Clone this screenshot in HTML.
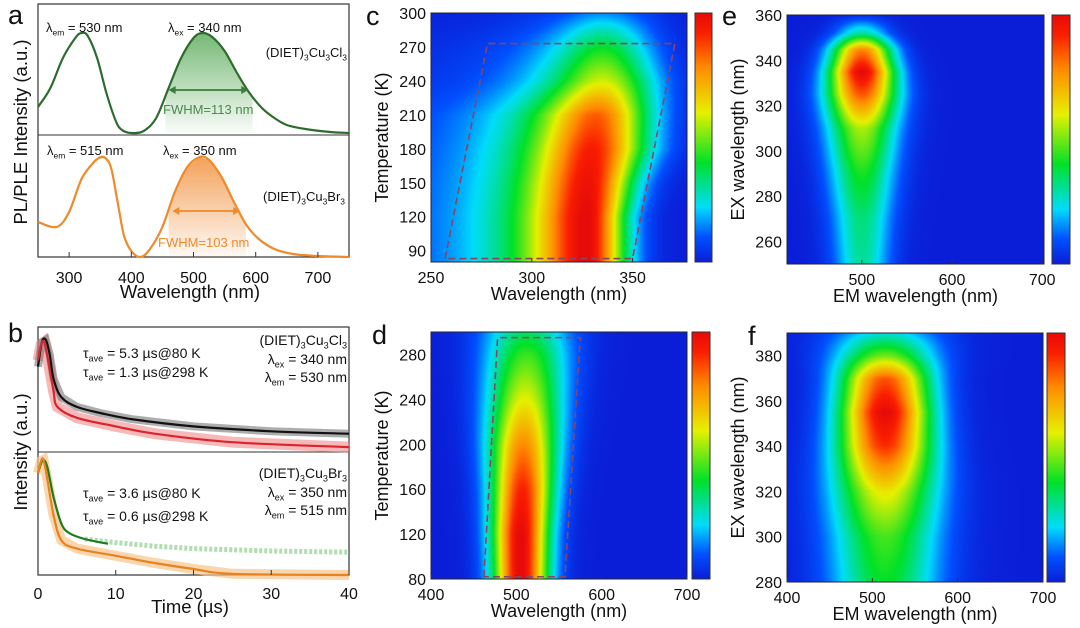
<!DOCTYPE html>
<html><head><meta charset="utf-8">
<style>
html,body{margin:0;padding:0;background:#fff;}
#wrap{position:relative;width:1080px;height:628px;overflow:hidden;font-family:"Liberation Sans",Arial,sans-serif;}
canvas{position:absolute;}
svg{position:absolute;left:0;top:0;}
text{font-family:"Liberation Sans",Arial,sans-serif;}
</style></head>
<body>
<div id="wrap">
<canvas id="hc" width="256" height="249" style="left:431px;top:13px"></canvas>
<canvas id="he" width="257" height="249" style="left:787px;top:15px"></canvas>
<canvas id="hd" width="256" height="247" style="left:431px;top:332px"></canvas>
<canvas id="hf" width="256" height="249" style="left:787px;top:333px"></canvas>
<svg id="svg" width="1080" height="628" xmlns="http://www.w3.org/2000/svg">
<defs>
<linearGradient id="cbar" x1="0" y1="1" x2="0" y2="0">
<stop offset="0" stop-color="rgb(10,30,215)"/><stop offset="0.1" stop-color="rgb(0,80,255)"/>
<stop offset="0.22" stop-color="rgb(0,220,250)"/><stop offset="0.4" stop-color="rgb(0,225,40)"/>
<stop offset="0.6" stop-color="rgb(230,240,0)"/><stop offset="0.78" stop-color="rgb(255,140,0)"/>
<stop offset="0.92" stop-color="rgb(250,30,0)"/><stop offset="1" stop-color="rgb(230,10,10)"/>
</linearGradient>
<linearGradient id="gfill" x1="0" y1="0" x2="0" y2="1"><stop offset="0" stop-color="#3a9a3a" stop-opacity="0.7"/><stop offset="1" stop-color="#3a9a3a" stop-opacity="0.03"/></linearGradient>
<linearGradient id="ofill" x1="0" y1="0" x2="0" y2="1"><stop offset="0" stop-color="#f08a30" stop-opacity="0.8"/><stop offset="1" stop-color="#f08a30" stop-opacity="0.05"/></linearGradient>
</defs>
</svg>
</div>
<script>
// ---------- Panel a data ----------
const aWl = [250,270,290,310,320,330,345,360,375,385,400,420,440,460,480,500,515,530,550,570,590,610,630,650,680,720,750];
const aCl = [0.26,0.45,0.75,0.95,1.0,0.97,0.75,0.4,0.12,0.03,0.0,0.02,0.15,0.45,0.75,0.95,1.0,0.96,0.82,0.6,0.4,0.25,0.15,0.08,0.04,0.01,0.0];
const aWlBr = [250,280,300,320,340,352,360,368,378,388,400,415,430,450,470,490,510,525,545,565,585,605,630,660,700,750];
const aBr = [0.35,0.3,0.45,0.78,0.95,1.0,0.98,0.88,0.55,0.22,0.06,0.0,0.08,0.3,0.65,0.9,1.0,0.97,0.8,0.55,0.32,0.18,0.08,0.03,0.01,0.0];
const aTicks = [300,400,500,600,700];
// ---------- Panel b data ----------
const bT1 = [0,0.5,1,1.5,2,3,5,8,12,20,30,40];
const bBlack = [0.7,0.9,0.92,0.8,0.6,0.45,0.37,0.32,0.27,0.21,0.17,0.15];
const bT2 = [0,0.4,0.8,1.3,2,2.5,5,10,15,25,40];
const bRed = [0.75,0.88,0.9,0.75,0.5,0.37,0.28,0.21,0.15,0.08,0.04];
const bT3 = [0,0.4,0.7,1.2,2,3,4,6,9];
const bGreen = [0.85,0.93,0.96,0.9,0.65,0.43,0.35,0.3,0.26];
const bGreenScatter = [0.3,0.27,0.24,0.22,0.2,0.19];
const bT3s = [6,10,15,20,30,40];
const bT4 = [0,0.4,0.7,1.2,2,3,5,10,15,20,25,40];
const bOrange = [0.85,0.95,0.96,0.8,0.5,0.29,0.22,0.16,0.1,0.05,0.01,0.0];
const bTicks = [0,10,20,30,40];
// ---------- Heatmap data ----------
const cTemp = [80,120,150,180,210,240,270,300];
const cCenter = [327,327,328,330,332,335,335,335];
const cAmp = [1,1,0.97,0.93,0.84,0.58,0.4,0.15];
const cLeftW = [30,30,30,30,30,28,26,24];
const cRightW = [14,14,16,19,19,19,18,18];
const cTicksY = [90,120,150,180,210,240,270,300];
const cTicksX = [250,300,350];
const dTemp = [80,120,160,200,240,280,300];
const dCenter = [505,505,507,508,510,512,512];
const dAmp = [1,1,0.92,0.78,0.6,0.45,0.35];
const dWidth = [23,24,26,29,32,35,37];
const dTicksY = [80,120,160,200,240,280];
const dTicksX = [400,500,600,700];
const eEx = [250,270,290,310,325,335,345,352,360];
const eAmp = [0.3,0.33,0.42,0.55,0.85,1,0.78,0.3,0.04];
const eWidth = [22,24,26,28,28,26,24,22,20];
const eCenter = [500,500,500,500,500,500,500,500,500];
const eTicksY = [260,280,300,320,340,360];
const eTicksX = [500,600,700];
const fEx = [280,300,320,340,355,370,380,390];
const fAmp = [0.4,0.46,0.62,0.9,1,0.85,0.5,0.25];
const fWidth = [45,45,44,40,38,38,42,46];
const fCenter = [515,515,515,515,515,515,515,515];
const fTicksY = [280,300,320,340,360,380];
const fTicksX = [400,500,600,700];

const NS="http://www.w3.org/2000/svg";
const svg=document.getElementById('svg');
function lin(d0,d1,r0,r1){return v=>r0+(v-d0)/(d1-d0)*(r1-r0);}
function el(tag,attrs,parent){const e=document.createElementNS(NS,tag);for(const k in attrs)e.setAttribute(k,attrs[k]);(parent||svg).appendChild(e);return e;}
function txt(x,y,s,size,anchor,fill,name){const t=el('text',{x:x,y:y,'font-size':size,'text-anchor':anchor||'start',fill:fill||'#111'});t.textContent=s;


return t;}
function rich(x,y,parts,size,anchor,fill,name){const t=el('text',{x:x,y:y,'font-size':size,'text-anchor':anchor||'start',fill:fill||'#111'});


parts.forEach(p=>{const s=document.createElementNS(NS,'tspan');if(p[1]==='sub'){s.setAttribute('font-size',size*0.65);s.setAttribute('dy',size*0.25);}else if(p[1]==='back'){s.setAttribute('dy',-size*0.25);}s.textContent=p[0];t.appendChild(s);});return t;}
function pathOf(xs,ys,fx,fy){return xs.map((v,i)=>(i?'L':'M')+fx(v).toFixed(1)+' '+fy(ys[i]).toFixed(1)).join(' ');}
function smoothPath(xs,ys,fx,fy){const p=xs.map((v,i)=>[fx(v),fy(ys[i])]);let d='M'+p[0][0]+' '+p[0][1];
for(let i=0;i<p.length-1;i++){const p0=p[Math.max(0,i-1)],p1=p[i],p2=p[i+1],p3=p[Math.min(p.length-1,i+2)];
d+=' C'+(p1[0]+(p2[0]-p0[0])/6).toFixed(1)+' '+(p1[1]+(p2[1]-p0[1])/6).toFixed(1)+' '+(p2[0]-(p3[0]-p1[0])/6).toFixed(1)+' '+(p2[1]-(p3[1]-p1[1])/6).toFixed(1)+' '+p2[0].toFixed(1)+' '+p2[1].toFixed(1);}return d;}
function interp(xs,ys,x){if(x<=xs[0])return ys[0];for(let i=0;i<xs.length-1;i++){if(x<=xs[i+1]){const t=(x-xs[i])/(xs[i+1]-xs[i]);return ys[i]+t*(ys[i+1]-ys[i]);}}return ys[ys.length-1];}

// ---------- Panel a ----------
const ax=lin(250,750,38,349);
const ayT=lin(0,1,133,33), ayB=lin(0,1,257,157);
el('rect',{x:38,y:4,width:311,height:253,fill:'none',stroke:'#333','stroke-width':1.2,});
el('line',{x1:38,y1:135,x2:349,y2:135,stroke:'#333','stroke-width':1,});
(function(){const xs=[],ys=[];for(let w=455;w<=595;w+=2){xs.push(w);ys.push(interp(aWl,aCl,w));}
let d=pathOf(xs,ys,ax,ayT)+' L'+ax(595)+' '+ayT(0)+' L'+ax(455)+' '+ayT(0)+' Z';
el('path',{d:d,fill:'url(#gfill)',});
const xs2=[],ys2=[];for(let w=460;w<=585;w+=2){xs2.push(w);ys2.push(interp(aWlBr,aBr,w));}
d=pathOf(xs2,ys2,ax,ayB)+' L'+ax(585)+' '+ayB(0)+' L'+ax(460)+' '+ayB(0)+' Z';
el('path',{d:d,fill:'url(#ofill)',});})();
el('path',{d:smoothPath(aWl,aCl,ax,ayT),fill:'none',stroke:'#2e6b2e','stroke-width':2.2,});
el('path',{d:smoothPath(aWlBr,aBr,ax,ayB),fill:'none',stroke:'#ef8a2a','stroke-width':2.2,});
function arrow(x1,x2,y,c,name){el('line',{x1:x1+4,y1:y,x2:x2-4,y2:y,stroke:c,'stroke-width':1.8,});
el('path',{d:`M${x1} ${y} l7 -4 l0 8 Z M${x2} ${y} l-7 -4 l0 8 Z`,fill:c,});}
arrow(ax(460),ax(588),90,'#3a7d3a','fwhm-arrow-cl');
arrow(ax(466),ax(575),211,'#ef8a2a','fwhm-arrow-br');
aTicks.forEach(v=>{el('line',{x1:ax(v),y1:257,x2:ax(v),y2:252,stroke:'#333',});txt(ax(v),283,String(v),16,'middle','#111','a-xtick-label');});
txt(8,24,'a',27,'start','#111','panel-label-a');
txt(190,298,'Wavelength (nm)',18.5,'middle','#111','a-x-axis-title');
(function(){const t=txt(0,0,'PL/PLE Intensity (a.u.)',18.5,'middle','#111','a-y-axis-title');t.setAttribute('transform','translate(27,132) rotate(-90)');})();
rich(46,32,[['λ'],['em','sub'],[' = 530 nm','back']],13,'start','#111','cl-em-label');
rich(168,32,[['λ'],['ex','sub'],[' = 340 nm','back']],13,'start','#111','cl-ex-label');
rich(347,57,[['(DIET)'],['3','sub'],['Cu','back'],['3','sub'],['Cl','back'],['3','sub']],13,'end','#111','cl-compound-label');
txt(163,114,'FWHM=113 nm',13,'start','#4a8a4a','cl-fwhm-label');
rich(47,155,[['λ'],['em','sub'],[' = 515 nm','back']],13,'start','#111','br-em-label');
rich(163,155,[['λ'],['ex','sub'],[' = 350 nm','back']],13,'start','#111','br-ex-label');
rich(345,201,[['(DIET)'],['3','sub'],['Cu','back'],['3','sub'],['Br','back'],['3','sub']],13,'end','#111','br-compound-label');
txt(158,247,'FWHM=103 nm',13,'start','#ef8a2a','br-fwhm-label');

// ---------- Panel b ----------
const bx=lin(0,40,38,349);
const byT=lin(0,1,452,330), byB=lin(0,1,575,455);
el('rect',{x:38,y:327,width:311,height:248,fill:'none',stroke:'#333','stroke-width':1.2,});
el('line',{x1:38,y1:452,x2:349,y2:452,stroke:'#333',});
el('path',{d:pathOf(bT4,bOrange,bx,byB),fill:'none',stroke:'#f7c48a','stroke-width':10,'stroke-opacity':0.7,});
el('path',{d:pathOf(bT3s,bGreenScatter,bx,byB),fill:'none',stroke:'#8fd08f','stroke-width':5,'stroke-opacity':0.7,'stroke-dasharray':'3 2',});
el('path',{d:pathOf(bT2,bRed,bx,byT),fill:'none',stroke:'#f08a8a','stroke-width':11,'stroke-opacity':0.6,});
el('path',{d:pathOf(bT1,bBlack,bx,byT),fill:'none',stroke:'#777','stroke-width':8,'stroke-opacity':0.6,});
el('path',{d:smoothPath(bT1,bBlack,bx,byT),fill:'none',stroke:'#111','stroke-width':2.2,});
el('path',{d:smoothPath(bT2,bRed,bx,byT),fill:'none',stroke:'#d8262c','stroke-width':2.2,});
el('path',{d:smoothPath(bT3,bGreen,bx,byB),fill:'none',stroke:'#1f7a1f','stroke-width':2.2,});
el('path',{d:smoothPath(bT4,bOrange,bx,byB),fill:'none',stroke:'#e8821e','stroke-width':2.2,});
bTicks.forEach(v=>{el('line',{x1:bx(v),y1:575,x2:bx(v),y2:570,stroke:'#333',});txt(bx(v),599,String(v),16,'middle','#111','b-xtick-label');});
txt(8,342,'b',27,'start','#111','panel-label-b');
txt(190,613,'Time (µs)',18.5,'middle','#111','b-x-axis-title');
(function(){const t=txt(0,0,'Intensity (a.u.)',18.5,'middle','#111','b-y-axis-title');t.setAttribute('transform','translate(27,452) rotate(-90)');})();
rich(83,358,[['τ'],['ave','sub'],[' = 5.3 µs@80 K','back']],14,'start','#111','tau-cl-80K');
rich(83,377,[['τ'],['ave','sub'],[' = 1.3 µs@298 K','back']],14,'start','#111','tau-cl-298K');
rich(347,345,[['(DIET)'],['3','sub'],['Cu','back'],['3','sub'],['Cl','back'],['3','sub']],14,'end','#111','b-cl-compound');
rich(347,364,[['λ'],['ex','sub'],[' = 340 nm','back']],14,'end','#111','b-cl-ex');
rich(347,382,[['λ'],['em','sub'],[' = 530 nm','back']],14,'end','#111','b-cl-em');
rich(347,478,[['(DIET)'],['3','sub'],['Cu','back'],['3','sub'],['Br','back'],['3','sub']],14,'end','#111','b-br-compound');
rich(347,497,[['λ'],['ex','sub'],[' = 350 nm','back']],14,'end','#111','b-br-ex');
rich(347,515,[['λ'],['em','sub'],[' = 515 nm','back']],14,'end','#111','b-br-em');
rich(83,498,[['τ'],['ave','sub'],[' = 3.6 µs@80 K','back']],14,'start','#111','tau-br-80K');
rich(83,521,[['τ'],['ave','sub'],[' = 0.6 µs@298 K','back']],14,'start','#111','tau-br-298K');

// ---------- colormap ----------
const cmS=[0,0.1,0.22,0.4,0.6,0.78,0.92,1];
const cmC=[[10,30,215],[0,80,255],[0,220,250],[0,225,40],[230,240,0],[255,140,0],[250,30,0],[230,10,10]];
function cmap(v){v=Math.max(0,Math.min(1,v));for(let i=0;i<cmS.length-1;i++){if(v<=cmS[i+1]){const t=(v-cmS[i])/(cmS[i+1]-cmS[i]);return cmC[i].map((c,k)=>c+t*(cmC[i+1][k]-c));}}return cmC[cmC.length-1];}
function heat(id,x0,x1,y0,y1,fn){const cv=document.getElementById(id),ctx=cv.getContext('2d'),W=cv.width,H=cv.height,img=ctx.createImageData(W,H);
for(let j=0;j<H;j++){const yv=y1+(y0-y1)*(j/(H-1));for(let i=0;i<W;i++){const xv=x0+(x1-x0)*(i/(W-1));const c=cmap(fn(xv,yv));const o=(j*W+i)*4;img.data[o]=c[0];img.data[o+1]=c[1];img.data[o+2]=c[2];img.data[o+3]=255;}}ctx.putImageData(img,0,0);}
heat('hc',250,377,80,300,(w,T)=>{const c=interp(cTemp,cCenter,T),a=interp(cTemp,cAmp,T);const d=w-c;
if(d<0){const s=interp(cTemp,cLeftW,T);return a/(1+(d/s)*(d/s));}const s=interp(cTemp,cRightW,T);return a*Math.exp(-0.5*(d/s)*(d/s));});
heat('hd',400,700,80,300,(w,T)=>{const c=interp(dTemp,dCenter,T),a=interp(dTemp,dAmp,T),s=interp(dTemp,dWidth,T);const d=w-c;return a*Math.exp(-0.5*(d/s)*(d/s));});
heat('he',417,702,250,360,(w,e)=>{const c=interp(eEx,eCenter,e),a=interp(eEx,eAmp,e),s=interp(eEx,eWidth,e);const d=w-c;return a*Math.exp(-0.5*(d/s)*(d/s));});
heat('hf',400,700,280,390,(w,e)=>{const c=interp(fEx,fCenter,e),a=interp(fEx,fAmp,e),s=interp(fEx,fWidth,e);const d=w-c;return a*Math.exp(-0.5*(d/s)*(d/s));});

function heatAxes(p){
el('rect',{x:p.x0,y:p.y0,width:p.x1-p.x0,height:p.y1-p.y0,fill:'none',stroke:'#223','stroke-width':1,});
el('rect',{x:p.cb0,y:p.y0,width:p.cb1-p.cb0,height:p.y1-p.y0,fill:'url(#cbar)',stroke:'#333','stroke-width':1,});
const fx=lin(p.dx0,p.dx1,p.x0,p.x1),fy=lin(p.dy0,p.dy1,p.y1,p.y0);
p.tx.forEach(v=>{el('line',{x1:fx(v),y1:p.y1,x2:fx(v),y2:p.y1-4,stroke:'#333',});txt(fx(v),p.y1+21,String(v),16,'middle','#111',p.n+'-xtick-label');});
p.ty.forEach(v=>{txt(p.x0-5,fy(v)+6,String(v),16,'end','#111',p.n+'-ytick-label');});
txt((p.x0+p.x1)/2,p.y1+38,p.xt,18,'middle','#111',p.n+'-x-axis-title');
const t=txt(0,0,p.yt,18,'middle','#111',p.n+'-y-axis-title');t.setAttribute('transform',`translate(${p.ytx},${(p.y0+p.y1)/2}) rotate(-90)`);
txt(p.lx,p.ly,p.l,27,'start','#111','panel-label-'+p.l);
return {fx,fy};}
const C=heatAxes({n:'c',x0:431,x1:687,y0:13,y1:262,cb0:695,cb1:712,dx0:250,dx1:377,dy0:80,dy1:300,tx:cTicksX,ty:cTicksY,xt:'Wavelength (nm)',yt:'Temperature (K)',ytx:388,l:'c',lx:366,ly:25});
const D=heatAxes({n:'d',x0:431,x1:687,y0:332,y1:579,cb0:692,cb1:710,dx0:400,dx1:700,dy0:80,dy1:300,tx:dTicksX,ty:dTicksY,xt:'Wavelength (nm)',yt:'Temperature (K)',ytx:388,l:'d',lx:372,ly:344});
const E=heatAxes({n:'e',x0:787,x1:1044,y0:15,y1:264,cb0:1052,cb1:1070,dx0:417,dx1:702,dy0:250,dy1:360,tx:eTicksX,ty:eTicksY,xt:'EM  wavelength (nm)',yt:'EX  wavelength (nm)',ytx:744,l:'e',lx:722,ly:25});
const F=heatAxes({n:'f',x0:787,x1:1043,y0:333,y1:582,cb0:1047,cb1:1065,dx0:400,dx1:700,dy0:280,dy1:390,tx:fTicksX,ty:fTicksY,xt:'EM  wavelength (nm)',yt:'EX  wavelength (nm)',ytx:744,l:'f',lx:748,ly:345});
const cPoly=[[257,83],[278,273],[371,273],[350,83]];
const dPoly=[[462,82],[478,295],[575,295],[557,82]];
el('path',{d:cPoly.map((p,i)=>(i?'L':'M')+C.fx(p[0])+' '+C.fy(p[1])).join(' ')+' Z',fill:'none',stroke:'#8a4466','stroke-width':1.6,'stroke-dasharray':'7 4',});
el('path',{d:dPoly.map((p,i)=>(i?'L':'M')+D.fx(p[0])+' '+D.fy(p[1])).join(' ')+' Z',fill:'none',stroke:'#8a4466','stroke-width':1.6,'stroke-dasharray':'7 4',});
</script>
</body></html>
